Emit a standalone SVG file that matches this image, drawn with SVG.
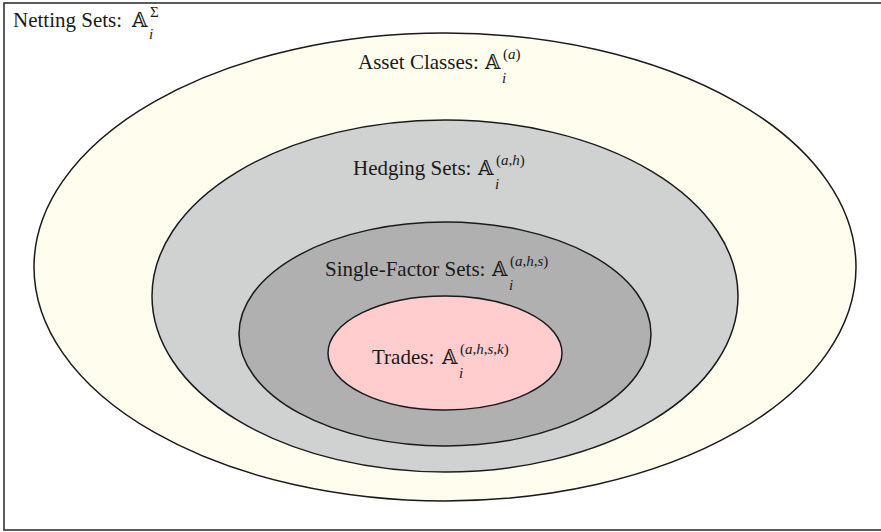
<svg xmlns="http://www.w3.org/2000/svg" width="881" height="532" viewBox="0 0 881 532">
<style>
.e{stroke:#1a1a1a;stroke-width:1.5}
.t{font-family:"Liberation Serif","Times New Roman",serif;font-size:21px;fill:#1a1a1a}
.m{font-family:"DejaVu Serif","DejaVu Sans",serif;font-size:20px;fill:#1a1a1a}
.s{font-family:"Liberation Serif","Times New Roman",serif;font-size:15px;font-style:italic;fill:#1a1a1a}
.u{font-style:normal}
</style>
<rect x="4" y="3" width="900" height="527" fill="#ffffff" stroke="#333333" stroke-width="1.6"/>
<g id="netting">
<text class="t" x="13" y="27">Netting Sets:</text>
<text class="m" x="132" y="27">𝔸</text>
<text class="s" x="149" y="39">i</text>
<text class="s" x="150" y="17"><tspan class="u">Σ</tspan></text>
</g>
<g id="asset">
<ellipse class="e" cx="445" cy="267" rx="411" ry="234" fill="#fffdee"/>
<text class="t" x="358" y="69">Asset Classes:</text>
<text class="m" x="485" y="69">𝔸</text>
<text class="s" x="502" y="83">i</text>
<text class="s" x="503" y="59"><tspan class="u">(</tspan>a<tspan class="u">)</tspan></text>
</g>
<g id="hedging">
<ellipse class="e" cx="445" cy="296" rx="293" ry="176" fill="#d0d1d1"/>
<text class="t" x="353" y="175">Hedging Sets:</text>
<text class="m" x="478" y="175">𝔸</text>
<text class="s" x="495" y="189">i</text>
<text class="s" x="496" y="165"><tspan class="u">(</tspan>a<tspan class="u">,</tspan>h<tspan class="u">)</tspan></text>
</g>
<g id="singlefactor">
<ellipse class="e" cx="445" cy="334" rx="206" ry="112" fill="#b0b0b0"/>
<text class="t" x="325" y="276">Single-Factor Sets:</text>
<text class="m" x="492" y="276">𝔸</text>
<text class="s" x="509" y="290">i</text>
<text class="s" x="510" y="266"><tspan class="u">(</tspan>a<tspan class="u">,</tspan>h<tspan class="u">,</tspan>s<tspan class="u">)</tspan></text>
</g>
<g id="trades">
<ellipse class="e" cx="445" cy="353" rx="117" ry="57" fill="#ffcdcd"/>
<text class="t" x="372" y="364">Trades:</text>
<text class="m" x="442" y="364">𝔸</text>
<text class="s" x="459" y="378">i</text>
<text class="s" x="460" y="354"><tspan class="u">(</tspan>a<tspan class="u">,</tspan>h<tspan class="u">,</tspan>s<tspan class="u">,</tspan>k<tspan class="u">)</tspan></text>
</g>
<g id="connectors"></g>
</svg>
